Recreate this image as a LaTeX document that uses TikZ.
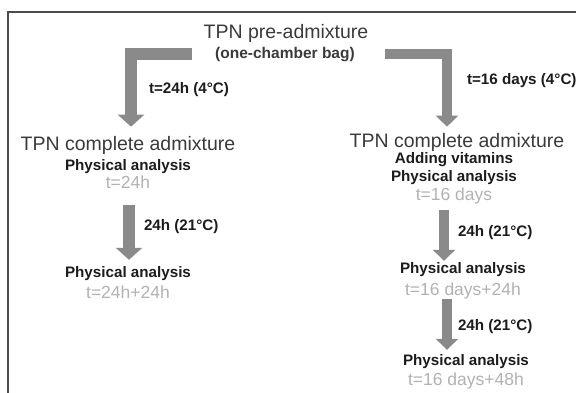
\documentclass[tikz,border=0pt]{standalone}
\usepackage{fontspec}
\setmainfont{Liberation Sans}
\usepackage{tikz}
\usetikzlibrary{arrows.meta}
\definecolor{framegray}{RGB}{75,75,75}
\definecolor{arrowgray}{RGB}{138,138,138}
\definecolor{timegray}{RGB}{178,178,178}
\definecolor{headgray}{RGB}{58,58,58}
\definecolor{labelblack}{RGB}{28,28,28}

\begin{document}
\begin{tikzpicture}[x=1pt, y=-1pt,
  head/.style={anchor=base, inner sep=0pt, font=\fontsize{19.5}{22}\selectfont, text=headgray},
  analysis/.style={anchor=base, inner sep=0pt, font=\fontsize{15.2}{18}\selectfont\bfseries, text=labelblack},
  timestamp/.style={anchor=base, inner sep=0pt, font=\fontsize{17.5}{20}\selectfont, text=timegray},
  steplabel/.style={inner sep=0pt, anchor=west, font=\fontsize{15.2}{18}\selectfont\bfseries, text=labelblack},
  fatarrow/.style={draw=arrowgray, line width=12pt, -{Triangle[length=12pt, width=26pt]}},
  thinarrow/.style={draw=arrowgray, line width=10pt, -{Triangle[length=11pt, width=22pt]}}
]
\useasboundingbox (0,0) rectangle (576,392);
\clip (0,0) rectangle (576,392);
% Frame
\draw[framegray, line width=2pt] (8,400) -- (8,12) -- (600,12);

% Pre-admixture
\node[head] (pre) at (286,38) {TPN pre-admixture};
\node[analysis, font=\fontsize{15.5}{18}\selectfont\bfseries, text=headgray] (bag) at (285,58) {(one-chamber bag)};
\coordinate (lstart) at (192,53.5);
\coordinate (rstart) at (385,53.5);

% Left branch
\node[head] (cl) at (128,150) {TPN complete admixture};
\node[analysis] (pl1) at (128,170) {Physical analysis};
\node[timestamp] (tl1) at (128,188) {t=24h};
\node[analysis] (pl2) at (128,277) {Physical analysis};
\node[timestamp] (tl2) at (128,298) {t=24h+24h};

% Right branch
\node[head] (cr) at (457,147) {TPN complete admixture};
\node[analysis] (vit) at (454,163) {Adding vitamins};
\node[analysis] (pr1) at (454,181) {Physical analysis};
\node[timestamp] (tr1) at (454,200) {t=16 days};
\node[analysis] (pr2) at (463,273) {Physical analysis};
\node[timestamp] (tr2) at (463,295) {t=16 days+24h};
\node[analysis] (pr3) at (466,365) {Physical analysis};
\node[timestamp] (tr3) at (466,385) {t=16 days+48h};

% Storage arrows
\draw[fatarrow, shorten >=9pt] (lstart) -| node[pos=0.72, steplabel, right=12pt]{t=24h (4°C)} ([xshift=3pt]cl.north);
\draw[thinarrow, shorten >=6pt] (rstart) -| node[pos=0.67, steplabel, right=15pt]{t=16 days (4°C)} ([xshift=-10pt]cr.north);

% Room temperature arrows
\draw[fatarrow, shorten <=17pt, shorten >=6pt] ([xshift=1pt]tl1.south) -- node[steplabel, right=9pt]{24h (21°C)} ([xshift=1pt]tl1.south |- pl2.north);
\draw[thinarrow, shorten <=6pt, shorten >=1pt] ([xshift=-10pt]tr1.south) -- node[steplabel, right=9pt]{24h (21°C)} ([xshift=-10pt]tr1.south |- pr2.north);
\draw[thinarrow, shorten >=4pt] ([xshift=-16pt]tr2.south) -- node[steplabel, right=6pt]{24h (21°C)} ([xshift=-16pt]tr2.south |- pr3.north);
\end{tikzpicture}
\end{document}
